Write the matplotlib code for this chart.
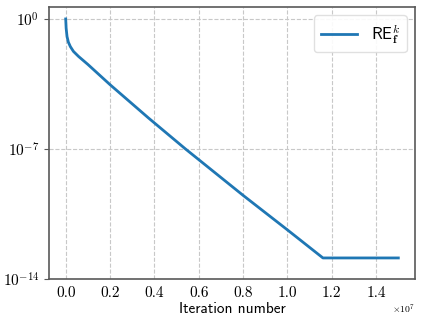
import numpy as np
import matplotlib
matplotlib.use("Agg")
import matplotlib.pyplot as plt

# points (x in units of 1e7, y as log10 of RE)
iter_e7 = [0.0, 0.002, 0.006, 0.012, 0.021, 0.035, 0.058, 0.1, 0.2,
           0.373, 0.54, 0.8, 1.0, 1.16, 1.5]
log_re = [0.0, -0.5, -0.95, -1.25, -1.49, -1.75, -2.02, -2.45, -3.54,
          -5.33, -7.0, -9.5, -11.36, -12.87, -12.87]
xtick_e7 = [0.0, 0.2, 0.4, 0.6, 0.8, 1.0, 1.2, 1.4]
ytick_vals = [1e0, 1e-7, 1e-14]

iterations = np.array(iter_e7) * 1e7
re_values = 10.0 ** np.array(log_re)

plt.rcParams['font.family'] = 'serif'
plt.rcParams['font.serif'] = ['cmr10']
plt.rcParams['mathtext.fontset'] = 'cm'
plt.rcParams['axes.formatter.use_mathtext'] = True
plt.rcParams['axes.unicode_minus'] = False

fig = plt.figure(figsize=(4.23, 3.27), dpi=100)
ax = fig.add_axes([0.116, 0.147, 0.865, 0.832])

ax.plot(iterations, re_values, color='#1f77b4', linewidth=2,
        label=r'$\mathsf{RE}_{\mathbf{f}}^{k}$')
ax.set_yscale('log')
ax.set_ylim(1e-14, 10 ** 0.65)
ax.set_yticks(ytick_vals)
ax.minorticks_off()

ax.set_xticks(np.array(xtick_e7) * 1e7)
ax.set_xticklabels([f'{v:.1f}' for v in xtick_e7])
# offset marker like the LaTeX output
ax.text(1.0, -0.085, r'$\times10^{7}$', transform=ax.transAxes,
        ha='right', va='top', fontsize=7)

ax.grid(True, linestyle='--', color='#c8c8c8', linewidth=0.8)
ax.set_axisbelow(True)
for sp in ax.spines.values():
    sp.set_color('0.35')
    sp.set_linewidth(1.2)
ax.tick_params(labelsize=11, color='0.35')
ax.tick_params(axis='x', length=0, pad=5)

ax.set_xlabel('Iteration number', family='cmss10', fontsize=11, labelpad=2)

ax.legend(loc='upper right', fontsize=12, handlelength=2.2, fancybox=True,
          framealpha=0.9, edgecolor='#dddddd')

fig.savefig('out.png', dpi=100)
